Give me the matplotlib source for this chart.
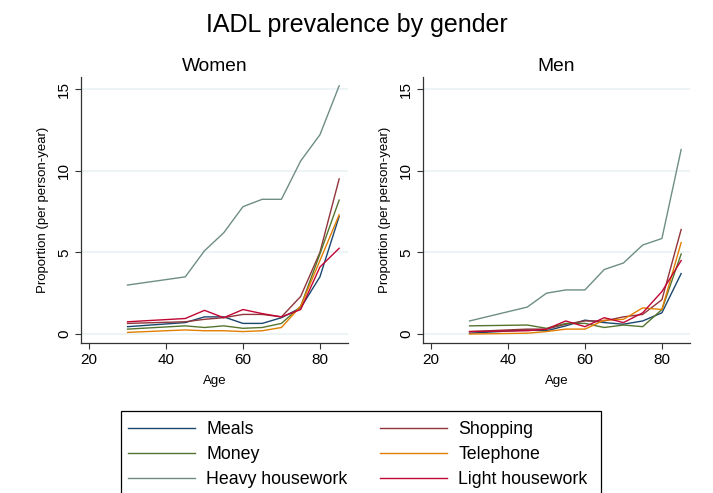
import matplotlib
matplotlib.use('Agg')
import matplotlib.pyplot as plt
from matplotlib.lines import Line2D
from matplotlib.patches import Rectangle

plt.rcParams['font.family'] = ['Liberation Sans', 'DejaVu Sans']

ages = [30, 45, 50, 55, 60, 65, 70, 75, 80, 85]
series = ['Meals', 'Shopping', 'Money', 'Telephone', 'Heavy housework', 'Light housework']
colors = {'Meals': '#1a476f', 'Shopping': '#90353b', 'Money': '#55752f',
          'Telephone': '#e37e00', 'Heavy housework': '#6e8e84', 'Light housework': '#c10534'}

women = {
    'Meals':           [0.45, 0.7, 1.05, 1.05, 0.65, 0.65, 1.0, 1.6, 3.5, 7.2],
    'Shopping':        [0.65, 0.75, 0.9, 1.0, 1.2, 1.2, 1.05, 2.3, 5.0, 9.5],
    'Money':           [0.3, 0.5, 0.4, 0.5, 0.35, 0.4, 0.65, 1.7, 4.9, 8.2],
    'Telephone':       [0.1, 0.25, 0.2, 0.2, 0.15, 0.2, 0.4, 1.7, 4.5, 7.3],
    'Heavy housework': [3.0, 3.5, 5.1, 6.2, 7.8, 8.25, 8.25, 10.6, 12.2, 15.2],
    'Light housework': [0.75, 0.95, 1.45, 1.0, 1.5, 1.25, 1.05, 1.5, 4.1, 5.25],
}
men = {
    'Meals':           [0.05, 0.25, 0.2, 0.5, 0.85, 0.7, 0.6, 0.8, 1.3, 3.7],
    'Shopping':        [0.15, 0.3, 0.3, 0.6, 0.8, 0.8, 1.05, 1.2, 2.1, 6.4],
    'Money':           [0.5, 0.55, 0.35, 0.65, 0.65, 0.4, 0.55, 0.45, 1.5, 4.9],
    'Telephone':       [0.0, 0.05, 0.15, 0.3, 0.3, 0.85, 0.9, 1.6, 1.5, 5.6],
    'Heavy housework': [0.8, 1.65, 2.5, 2.7, 2.7, 3.95, 4.35, 5.45, 5.85, 11.3],
    'Light housework': [0.15, 0.2, 0.3, 0.8, 0.45, 1.0, 0.7, 1.3, 2.6, 4.5],
}

W, H = 713, 493
fig = plt.figure(figsize=(W / 100, H / 100), dpi=100)
fig.text(0.5, 1 - 25 / H, 'IADL prevalence by gender', ha='center', va='center', fontsize=18)

panels = [('Women', women, 81), ('Men', men, 423)]
for title, data, left in panels:
    ax = fig.add_axes([left / W, 1 - 343 / H, 267 / W, 266 / H])
    for s in series:
        ax.plot(ages, data[s], color=colors[s], lw=1.0)
    ax.set_xlim(17.9, 87.3)
    ax.set_ylim(-0.55, 15.74)
    ax.set_xticks([20, 40, 60, 80])
    ax.set_yticks([0, 5, 10, 15])
    ax.grid(axis='y', color='#eaf2f3', lw=1.2)
    ax.set_axisbelow(True)
    for sp in ['top', 'right']:
        ax.spines[sp].set_visible(False)
    for sp in ['left', 'bottom']:
        ax.spines[sp].set_color('#333333')
        ax.spines[sp].set_linewidth(0.9)
    ax.tick_params(labelsize=11, color='#333333', length=4, pad=3)
    for lab in ax.get_yticklabels():
        lab.set_rotation(90)
        lab.set_va('center')
    ax.set_xlabel('Age', fontsize=9.5, labelpad=6)
    ax.set_ylabel('Proportion (per person-year)', fontsize=9.5, labelpad=6)
    ax.set_title(title, fontsize=13.8, pad=4)

# legend frame (bottom runs off the figure)
fig.patches.append(Rectangle((121 / W, -0.05), 480 / W, 0.05 + 1 - 411 / H,
                             transform=fig.transFigure, fill=False,
                             edgecolor='black', lw=0.9))

order = ['Meals', 'Money', 'Heavy housework', 'Shopping', 'Telephone', 'Light housework']
handles = [Line2D([], [], color=colors[s], lw=1.0) for s in order]
leg = fig.legend(handles, order, loc='upper left', bbox_to_anchor=(128 / W, 1 - 421 / H),
                 ncol=2, fontsize=12.8, frameon=False, handlelength=3.77,
                 columnspacing=1.85, handletextpad=0.62, labelspacing=0.45,
                 borderpad=0, borderaxespad=0)

fig.savefig('out.png', dpi=100)
